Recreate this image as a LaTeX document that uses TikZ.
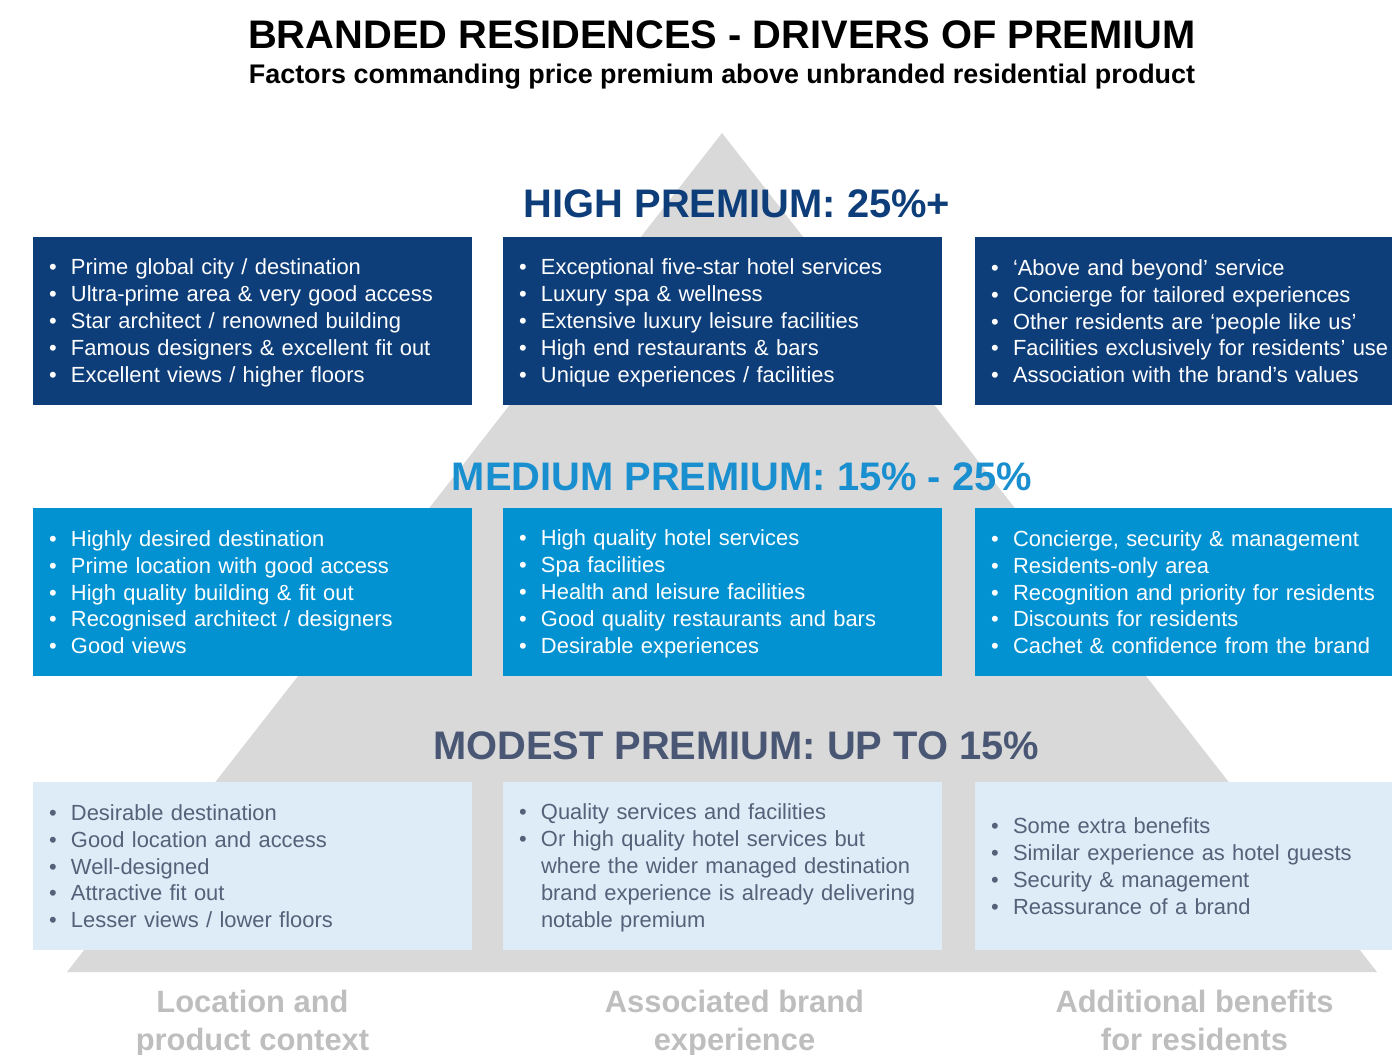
\documentclass[tikz,border=0pt]{standalone}
\usepackage{fontspec}
\setmainfont{Liberation Sans}
\usetikzlibrary{positioning}

\definecolor{navy}{RGB}{14,62,122}
\definecolor{sky}{RGB}{2,146,209}
\definecolor{skytext}{RGB}{26,143,207}
\definecolor{pale}{RGB}{221,236,247}
\definecolor{slate}{RGB}{74,87,116}
\definecolor{slatetext}{RGB}{86,96,120}
\definecolor{pyramid}{RGB}{217,217,217}
\definecolor{faint}{RGB}{190,190,190}

\newcommand{\bl}[1]{\rule[-4bp]{0pt}{24bp}\makebox[22bp][l]{\textbullet}\mbox{#1}}
\newcommand{\cont}[1]{\rule[-4bp]{0pt}{24bp}\hspace*{22bp}\mbox{#1}}

\begin{document}
\begin{tikzpicture}[x=1bp,y=-1bp,
    box/.style={rectangle,outer sep=0pt,inner xsep=16bp,inner ysep=0pt,
      minimum height=168bp,text width=407bp,align=left,
      font=\fontsize{22}{27}\selectfont},
    high box/.style={box,fill=navy,text=white},
    mid box/.style={box,fill=sky,text=white},
    low box/.style={box,fill=pale,text=slatetext},
    level/.style={anchor=base,font=\fontsize{40}{48}\selectfont\bfseries},
    context/.style={inner sep=0pt,align=center,text=faint,
      font=\fontsize{31}{38.5}\selectfont\bfseries}]
  \useasboundingbox (0,0) rectangle (1392,1054);

  \node[anchor=base,font=\fontsize{40}{48}\selectfont\bfseries] (title) at (722,48)
    {BRANDED RESIDENCES - DRIVERS OF PREMIUM};
  \node[anchor=base,font=\fontsize{27}{30}\selectfont\bfseries] (subtitle) at (722,83)
    {Factors commanding price premium above unbranded residential product};

  \fill[pyramid] (722,133) -- (1377,972) -- (67,972) -- cycle;

  \node[level,text=navy] (high) at (737,217) {HIGH PREMIUM: 25\%+};
  \node[level,text=skytext] (medium) at (742,490) {MEDIUM PREMIUM: 15\% - 25\%};
  \node[level,text=slate] (modest) at (736,759) {MODEST PREMIUM: UP TO 15\%};

  \node[high box,anchor=north west] (h1) at (33,237) {%
    \bl{Prime global city / destination}\\
    \bl{Ultra-prime area \& very good access}\\
    \bl{Star architect / renowned building}\\
    \bl{Famous designers \& excellent fit out}\\
    \bl{Excellent views / higher floors}};
  \node[high box] (h2) [right=31bp of h1] {%
    \bl{Exceptional five-star hotel services}\\
    \bl{Luxury spa \& wellness}\\
    \bl{Extensive luxury leisure facilities}\\
    \bl{High end restaurants \& bars}\\
    \bl{Unique experiences / facilities}};
  \node[high box] (h3) [right=33bp of h2] {%
    \bl{‘Above and beyond’ service}\\
    \bl{Concierge for tailored experiences}\\
    \bl{Other residents are ‘people like us’}\\
    \bl{Facilities exclusively for residents’ use}\\
    \bl{Association with the brand’s values}};

  \node[mid box] (m1) [below=103bp of h1] {%
    \bl{Highly desired destination}\\
    \bl{Prime location with good access}\\
    \bl{High quality building \& fit out}\\
    \bl{Recognised architect / designers}\\
    \bl{Good views}};
  \node[mid box] (m2) [right=31bp of m1] {%
    \bl{High quality hotel services}\\
    \bl{Spa facilities}\\
    \bl{Health and leisure facilities}\\
    \bl{Good quality restaurants and bars}\\
    \bl{Desirable experiences}};
  \node[mid box] (m3) [right=33bp of m2] {%
    \bl{Concierge, security \& management}\\
    \bl{Residents-only area}\\
    \bl{Recognition and priority for residents}\\
    \bl{Discounts for residents}\\
    \bl{Cachet \& confidence from the brand}};

  \node[low box] (l1) [below=106bp of m1] {%
    \bl{Desirable destination}\\
    \bl{Good location and access}\\
    \bl{Well-designed}\\
    \bl{Attractive fit out}\\
    \bl{Lesser views / lower floors}};
  \node[low box] (l2) [right=31bp of l1] {%
    \bl{Quality services and facilities}\\
    \bl{Or high quality hotel services but}\\
    \cont{where the wider managed destination}\\
    \cont{brand experience is already delivering}\\
    \cont{notable premium}};
  \node[low box] (l3) [right=33bp of l2] {%
    \bl{Some extra benefits}\\
    \bl{Similar experience as hotel guests}\\
    \bl{Security \& management}\\
    \bl{Reassurance of a brand}};

  \node[context] (location) [below=40bp of l1] {Location and\\product context};
  \node[context] (brand) [below=40bp of l2,xshift=12bp] {Associated brand\\experience};
  \node[context] (benefits) [below=40bp of l3] {Additional benefits\\for residents};
\end{tikzpicture}
\end{document}
